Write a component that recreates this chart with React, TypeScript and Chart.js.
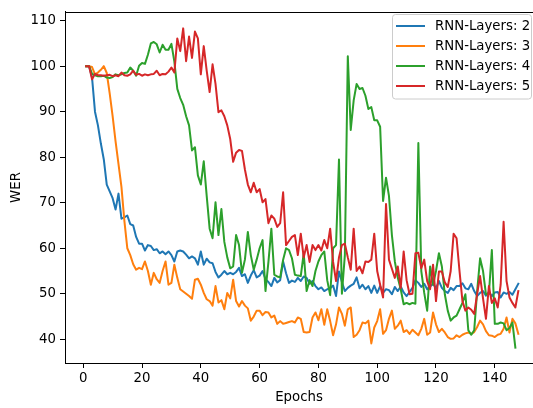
import React, { useEffect, useRef } from "react";
import { Chart, registerables } from "chart.js";

Chart.register(...registerables);

const seriesLabels = ["RNN-Layers: 2", "RNN-Layers: 3", "RNN-Layers: 4", "RNN-Layers: 5"];
const seriesColors = ["#1f77b4", "#ff7f0e", "#2ca02c", "#d62728"];
const xTickValues = [0, 20, 40, 60, 80, 100, 120, 140];
const yTickValues = [40, 50, 60, 70, 80, 90, 100, 110];

// WER per epoch (epoch 1, 2, 3, ...)
const rnn2 = [
  100, 100, 97.5, 90, 87, 83, 79.5, 74, 72.5, 71,
  68.5, 72, 66.5, 66.8, 67.2, 65.3, 65, 62.5, 61, 61,
  59.5, 60.7, 60.5, 59.6, 59.8, 58.9, 59.3, 58.7, 59.3, 58.5,
  57.1, 59.3, 59.5, 59.3, 58.6, 57.8, 58.2, 57.8, 56.4, 59.3,
  56.4, 57.7, 56.9, 56.7, 54.8, 53.6, 54.2, 55, 54.3, 54.6,
  54.3, 54.8, 55.7, 53.9, 54.3, 52.4, 54, 55.2, 53.6, 54,
  55, 53.2, 52.6, 51.7, 53.5, 52.5, 53, 57.1, 54.5, 52.4,
  52.9, 52.6, 53.5, 52.8, 53.8, 53.5, 52.2, 52.8, 51.7, 51,
  51.4, 50.6, 51, 51.2, 51.8, 49.5, 54.9, 52.6, 50.6, 51.3,
  51.8, 52.2, 53.6, 51.2, 52, 51, 51.7, 50.2, 51.8, 50.2,
  51.7, 50.2, 51, 50.8, 49.9, 51.5, 50.6, 51.6, 50.3, 49.5,
  50.4, 51.3, 53, 52.4, 51.5, 52.2, 51, 51.6, 52.2, 51.2,
  52.8, 51.3, 50.6, 50.2, 51.3, 50.8, 51.7, 51.7, 52.3, 51.2,
  51, 52.2, 50.6, 49.5, 50.2, 50.6, 49.6, 50.4, 49.5, 50.3,
  50.4, 49.2, 50.3, 50, 50.4, 49.8, 51, 52.2,
];

const rnn3 = [
  100, 100, 99.8, 98.2, 98.6, 99.2, 100, 98.5, 94, 89,
  83.5, 78.5, 73.5, 66, 60, 58.5, 56.5, 55.3, 55.7, 55.4,
  57.1, 55, 52, 54.6, 53.2, 52.4, 55, 57.1, 52, 52.4,
  56.4, 53.5, 51, 50.5, 50, 49.5, 48.9, 53.1, 53.3, 52,
  50.2, 48.8, 48.4, 47.4, 51.7, 48.1, 48.6, 46.6, 50.2, 49,
  53.1, 48.4, 47.2, 48.4, 47.4, 46.8, 44.1, 45, 46.3, 46.3,
  45.3, 46, 45.9, 44.8, 45.2, 43.4, 44, 43.4, 43.6, 43.8,
  44, 43.7, 44.8, 44.5, 41.6, 41.5, 41.6, 44.8, 45.9, 44.2,
  46.6, 43.2, 46.6, 44, 40.9, 43.3, 47, 45.6, 43, 46.6,
  47, 40.5, 41, 42, 43.7, 43.5, 44.1, 39.1, 42.6, 44,
  46.6, 41.2, 42, 44.5, 46.3, 42.3, 43, 44.1, 41.6, 42,
  41.2, 42.1, 41.5, 40.9, 42.3, 44.5, 41, 41.5, 45.9, 43.3,
  41.6, 42.3, 41.5, 40.5, 40.1, 40.2, 40.9, 40.5, 41, 41.3,
  41.5, 41.2, 41.6, 42.7, 44.1, 43.3, 41.8, 40.9, 40.8, 40.5,
  41, 41.2, 42.3, 44.8, 41.5, 44.5, 43.5, 41.2,
];

const rnn4 = [
  100, 100, 98.3, 98, 97.8, 97.8, 97.9, 97.5, 97.4, 97.6,
  98.2, 98, 98.2, 98.5, 98.6, 99.7, 99, 97.9, 100.1, 100.7,
  100.5, 102.5, 105, 105.3, 104.8, 103, 104.7, 103.6, 103.6, 104.9,
  101, 95, 93, 91.5, 89, 87, 81.5, 82.2, 76, 74,
  79.1, 71.5, 64.3, 62.2, 70.1, 62.9, 68.6, 61.4, 58, 55.6,
  56, 62.9, 60.7, 54.6, 57.5, 63.6, 58.5, 55.3, 57.5, 60,
  61.8, 50.6, 57, 64.3, 54.2, 53.8, 53.6, 57.5, 60, 59.6,
  57.8, 54.2, 54, 53.9, 58.9, 50.6, 53, 51.7, 55, 57.1,
  58.5, 59.3, 53, 49.7, 60, 60.7, 79.5, 50, 58.5, 102.2,
  86, 92.5, 96.1, 95, 95.2, 93.5, 90.6, 91, 88.1, 88.1,
  86.7, 70.4, 75.5, 71.5, 62.9, 57.1, 53.5, 51, 47.7, 48,
  47.7, 48, 47.8, 83.1, 55, 50.2, 46.3, 56, 52, 55,
  58.9, 56, 49.9, 46.3, 44.1, 44.8, 45.2, 46.6, 48, 49.9,
  42, 41, 42, 50.6, 57.8, 55, 49.9, 50, 59.6, 43.4,
  43.4, 43.7, 43.5, 42, 42.5, 43.7, 38.2,
];

const rnn5 = [
  100, 100, 97.1, 98.3, 98, 98, 97.9, 98, 98.1, 97.8,
  98, 97.8, 98.6, 98, 97.9, 98.2, 99, 98.1, 98.3, 97.9,
  98.2, 98, 98.2, 98.3, 99, 98, 98.3, 98.2, 98.8, 99.7,
  98.6, 106.1, 103.3, 108.3, 101.1, 106.5, 101.8, 107.6, 106.1, 98.2,
  104.4, 99, 94.3, 100.4, 96.1, 89.9, 90.3, 89, 87, 84,
  79, 81, 81.6, 81.4, 77.3, 74, 72.3, 74.4, 72.3, 73,
  70.1, 70.8, 65.5, 67.2, 66.5, 64.7, 65.5, 72.3, 60.7, 61.6,
  62.5, 62.9, 58.5, 63.2, 58, 60.7, 57, 60.7, 59.6, 60.7,
  59.5, 61.8, 60, 64.3, 57, 52.8, 58, 60.7, 61, 58,
  55.3, 64.3, 55, 56, 54.5, 57.1, 57, 57.5, 63.2, 55,
  52, 49.2, 69.7, 57.5, 55.5, 53.5, 56, 51.3, 59.3, 53,
  49.9, 50, 58.9, 59, 55.6, 57.5, 52.8, 51, 56.4, 48.4,
  54.9, 54.9, 52.5, 51.5, 55, 63.2, 62.2, 55, 48.4, 46.3,
  47, 46.5, 45.6, 50, 53.9, 49, 44.5, 51.7, 48, 49,
  47, 52, 65.8, 52.8, 49.2, 48, 47, 50.6,
];

const allSeries = [rnn2, rnn3, rnn4, rnn5];

const FONT = "DejaVu Sans";
const FS = 13.3;

const framePlugin = {
  id: "frameAndLegend",
  afterDraw(chart: any) {
    const { ctx, chartArea } = chart;
    ctx.save();
    // top spine
    ctx.strokeStyle = "#000";
    ctx.lineWidth = 1;
    ctx.beginPath();
    ctx.moveTo(chartArea.left, Math.round(chartArea.top) + 0.5);
    ctx.lineTo(chartArea.right, Math.round(chartArea.top) + 0.5);
    ctx.stroke();

    // legend box (upper right)
    const bx = 392.5, by = 14.5, bw = 139, bh = 84.5, r = 3;
    ctx.beginPath();
    ctx.moveTo(bx + r, by);
    ctx.lineTo(bx + bw - r, by);
    ctx.arcTo(bx + bw, by, bx + bw, by + r, r);
    ctx.lineTo(bx + bw, by + bh - r);
    ctx.arcTo(bx + bw, by + bh, bx + bw - r, by + bh, r);
    ctx.lineTo(bx + r, by + bh);
    ctx.arcTo(bx, by + bh, bx, by + bh - r, r);
    ctx.lineTo(bx, by + r);
    ctx.arcTo(bx, by, bx + r, by, r);
    ctx.closePath();
    ctx.fillStyle = "rgba(255,255,255,0.8)";
    ctx.fill();
    ctx.strokeStyle = "#cccccc";
    ctx.lineWidth = 1;
    ctx.stroke();

    chart.data.datasets.forEach((ds: any, i: number) => {
      const y = 26 + i * 20;
      ctx.strokeStyle = ds.borderColor;
      ctx.lineWidth = 2;
      ctx.lineCap = "butt";
      ctx.beginPath();
      ctx.moveTo(396, y);
      ctx.lineTo(425, y);
      ctx.stroke();
      ctx.fillStyle = "#000";
      ctx.font = `${FS}px "${FONT}"`;
      ctx.textBaseline = "middle";
      ctx.textAlign = "left";
      ctx.fillText(ds.label, 435, y + 0.5);
    });
    ctx.restore();
  },
};

export default function App() {
  const ref = useRef<HTMLCanvasElement | null>(null);

  useEffect(() => {
    if (!ref.current) return;
    const datasets = allSeries.map((s, k) => ({
      label: seriesLabels[k],
      data: s.map((v, i) => ({ x: i + 1, y: v })),
      borderColor: seriesColors[k],
      backgroundColor: seriesColors[k],
      borderWidth: 2,
      pointRadius: 0,
      tension: 0,
      fill: false,
      borderCapStyle: "square" as const,
      borderJoinStyle: "round" as const,
      order: 4 - k,
    }));

    const chart = new Chart(ref.current, {
      type: "line",
      data: { datasets },
      plugins: [framePlugin],
      options: {
        animation: false,
        responsive: false,
        devicePixelRatio: 1,
        layout: { padding: { top: 7, left: 0, right: 0, bottom: 0 } },
        plugins: { legend: { display: false }, tooltip: { enabled: false } },
        scales: {
          x: {
            type: "linear",
            min: -6.2,
            max: 153,
            afterBuildTicks: (scale: any) => {
              scale.ticks = xTickValues.map((v) => ({ value: v }));
            },
            afterFit: (scale: any) => {
              scale.height = 45;
            },
            grid: {
              drawOnChartArea: false,
              drawTicks: true,
              tickLength: 5,
              tickColor: "#000",
              tickWidth: 1,
            },
            border: { display: true, color: "#000", width: 1 },
            ticks: {
              color: "#000",
              font: { family: FONT, size: FS },
              padding: 3,
              maxRotation: 0,
              autoSkip: false,
            },
            title: {
              display: true,
              text: "Epochs",
              color: "#000",
              font: { family: FONT, size: FS },
              padding: { top: 0, bottom: 2 },
            },
          },
          y: {
            type: "linear",
            min: 34.8,
            max: 111.9,
            afterBuildTicks: (scale: any) => {
              scale.ticks = yTickValues.map((v) => ({ value: v }));
            },
            afterFit: (scale: any) => {
              scale.width = 65;
            },
            grid: {
              drawOnChartArea: false,
              drawTicks: true,
              tickLength: 5,
              tickColor: "#000",
              tickWidth: 1,
            },
            border: { display: true, color: "#000", width: 1 },
            ticks: {
              color: "#000",
              font: { family: FONT, size: FS },
              padding: 4,
              autoSkip: false,
            },
            title: {
              display: true,
              text: "WER",
              color: "#000",
              font: { family: FONT, size: FS },
              padding: { top: 9, bottom: 0 },
            },
          },
        },
      },
    } as any);

    return () => chart.destroy();
  }, []);

  return (
    <div style={{ position: "fixed", left: 0, top: 0, width: 533, height: 408, overflow: "hidden", background: "#fff" }}>
      <canvas ref={ref} width={533} height={408} style={{ display: "block", width: 533, height: 408 }} />
    </div>
  );
}
